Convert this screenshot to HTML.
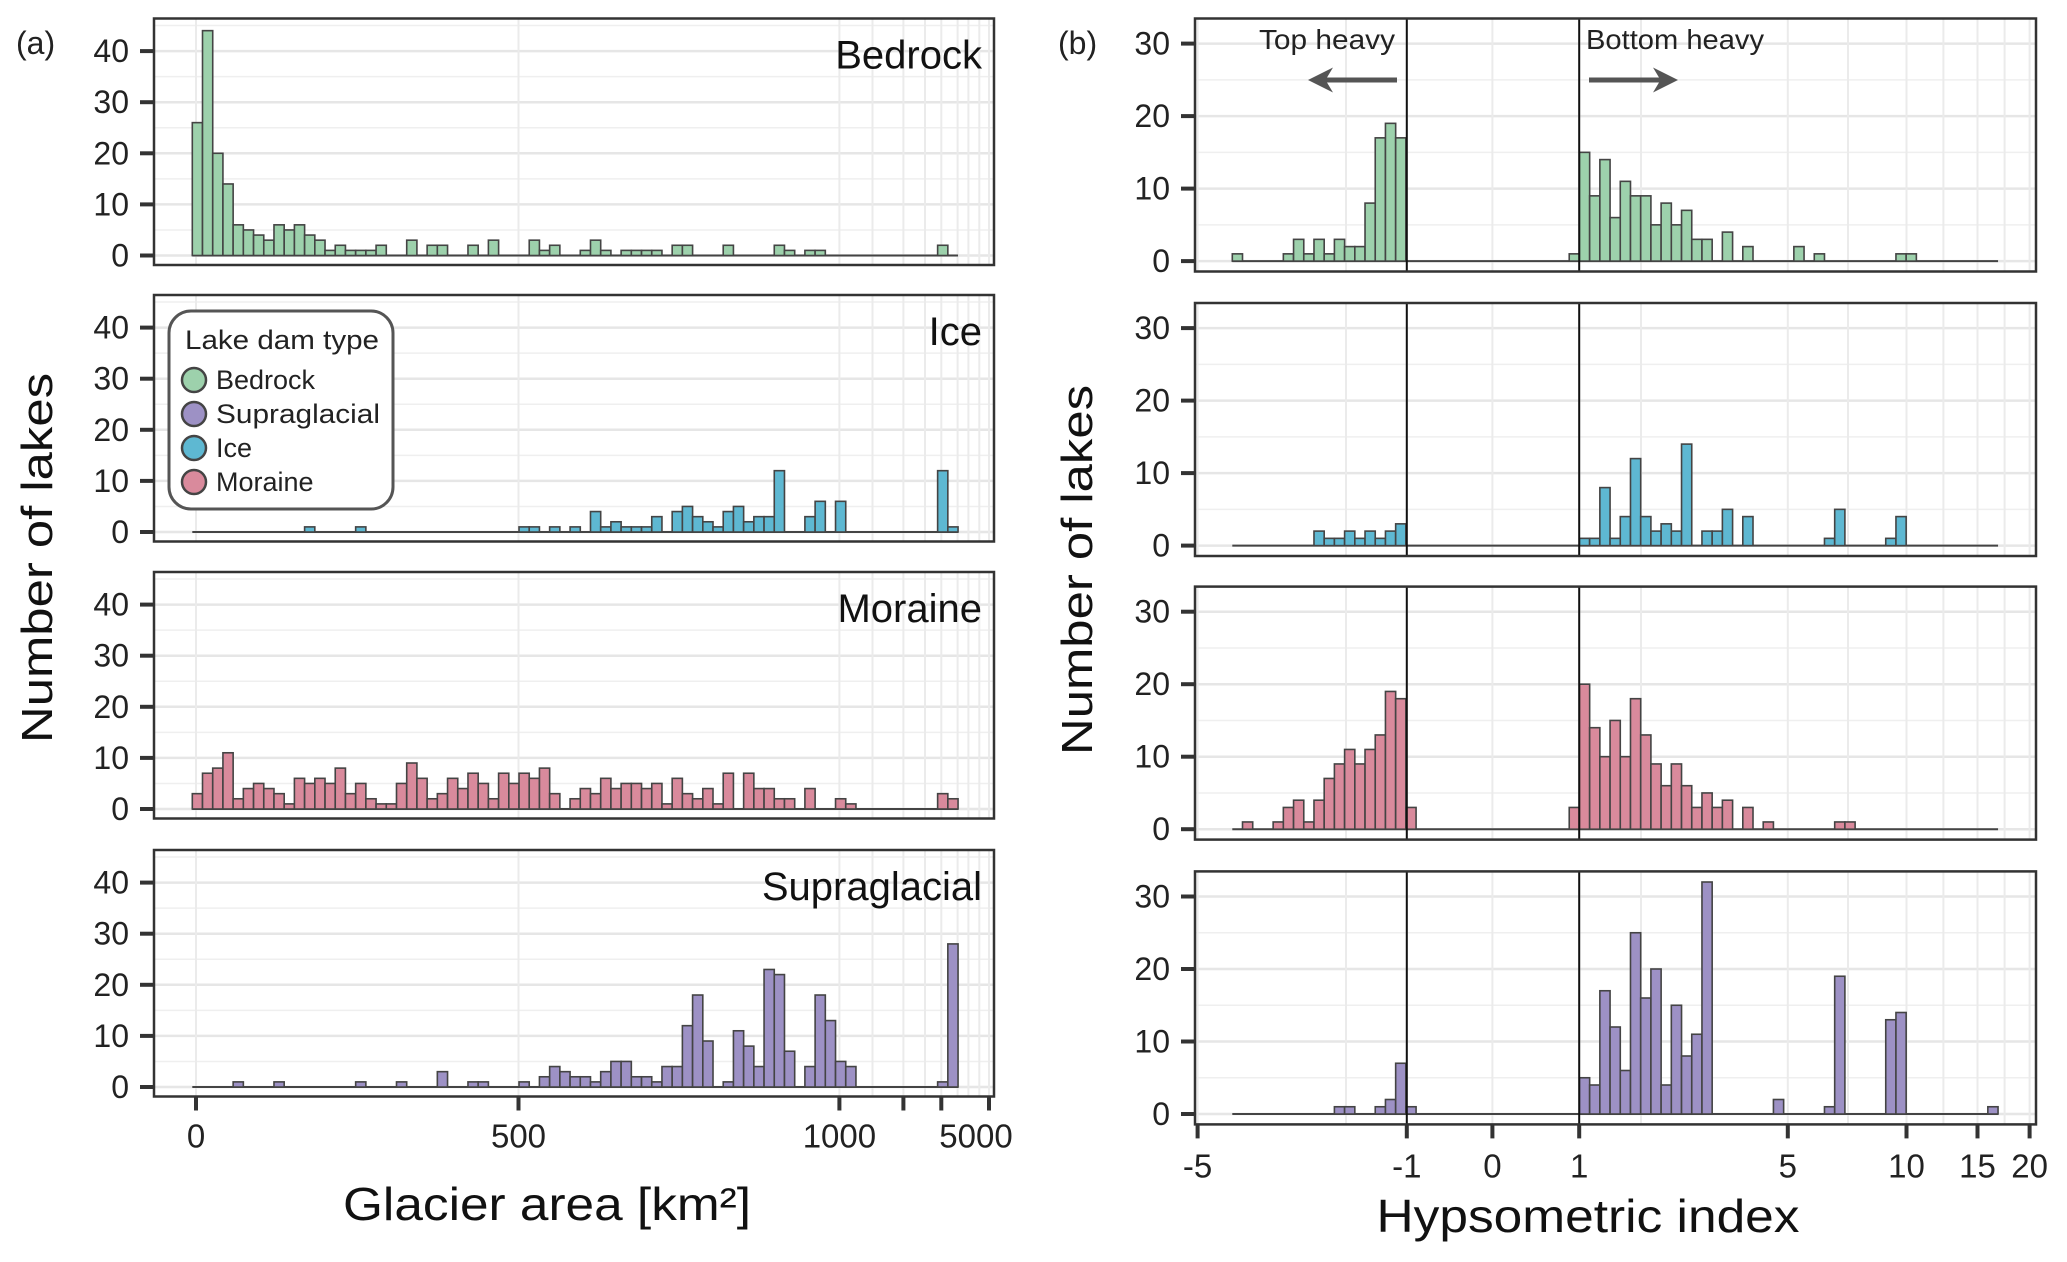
<!DOCTYPE html>
<html><head><meta charset="utf-8"><style>
html,body{margin:0;padding:0;background:#fff;}
svg{display:block;font-family:"Liberation Sans",sans-serif;}
</style></head><body>
<svg id="chart" width="2067" height="1262" viewBox="0 0 2067 1262" xmlns="http://www.w3.org/2000/svg">
<defs><marker id="ah" viewBox="0 0 10 10" refX="6" refY="5" markerWidth="5" markerHeight="5" orient="auto"><path d="M0,0 L10,5 L0,10 L3,5 z" fill="#555"/></marker></defs>
<g id="grid"></g>
<g id="bars"></g>
<g id="axes"></g>
<text x="16" y="54" font-size="32" fill="#222">(a)</text>
<text x="1058" y="54" font-size="32" fill="#222">(b)</text>
<text transform="translate(52,558) rotate(-90)" text-anchor="middle" font-size="44" fill="#111" textLength="370" lengthAdjust="spacingAndGlyphs">Number of lakes</text>
<text transform="translate(1092,570) rotate(-90)" text-anchor="middle" font-size="44" fill="#111" textLength="370" lengthAdjust="spacingAndGlyphs">Number of lakes</text>
<text x="547" y="1220" text-anchor="middle" font-size="46" fill="#111" textLength="408" lengthAdjust="spacingAndGlyphs">Glacier area [km²]</text>
<text x="1588" y="1232" text-anchor="middle" font-size="46" fill="#111" textLength="423" lengthAdjust="spacingAndGlyphs">Hypsometric index</text>
<text x="1395" y="49" text-anchor="end" font-size="28" fill="#222" textLength="136" lengthAdjust="spacingAndGlyphs">Top heavy</text>
<line x1="1397" y1="80" x2="1318" y2="80" stroke="#555" stroke-width="5" marker-end="url(#ah)"/>
<text x="1586" y="49" font-size="28" fill="#222" textLength="178" lengthAdjust="spacingAndGlyphs">Bottom heavy</text>
<line x1="1589" y1="80" x2="1668" y2="80" stroke="#555" stroke-width="5" marker-end="url(#ah)"/>
<g>
<rect x="169" y="311" width="224" height="198" rx="22" fill="#fff" stroke="#555" stroke-width="3"/>
<text x="185" y="349" font-size="27" fill="#222" textLength="194" lengthAdjust="spacingAndGlyphs">Lake dam type</text>
<circle cx="194" cy="380" r="12" fill="#9dd1ac" stroke="#444" stroke-width="2.5"/>
<text x="216" y="389" font-size="27" fill="#222">Bedrock</text>
<circle cx="194" cy="414" r="12" fill="#9d91c5" stroke="#444" stroke-width="2.5"/>
<text x="216" y="423" font-size="27" fill="#222" textLength="164" lengthAdjust="spacingAndGlyphs">Supraglacial</text>
<circle cx="194" cy="448" r="12" fill="#5eb8d2" stroke="#444" stroke-width="2.5"/>
<text x="216" y="457" font-size="27" fill="#222">Ice</text>
<circle cx="194" cy="482" r="12" fill="#d98a9c" stroke="#444" stroke-width="2.5"/>
<text x="216" y="491" font-size="27" fill="#222">Moraine</text>
</g>
</svg>
<script>
// ---- data (counts per bin, 75 bins) ----
const panelNames = ["Bedrock", "Ice", "Moraine", "Supraglacial"];
const areaBedrock = [26,44,20,14,6,5,4,3,6,5,6,4,3,1,2,1,1,1,2,0,0,3,0,2,2,0,0,2,0,3,0,0,0,3,1,2,0,0,1,3,1,0,1,1,1,1,0,2,2,0,0,0,2,0,0,0,0,2,1,0,1,1,0,0,0,0,0,0,0,0,0,0,0,2,0];
const areaIce = [0,0,0,0,0,0,0,0,0,0,0,1,0,0,0,0,1,0,0,0,0,0,0,0,0,0,0,0,0,0,0,0,1,1,0,1,0,1,0,4,1,2,1,1,1,3,0,4,5,3,2,1,4,5,2,3,3,12,0,0,3,6,0,6,0,0,0,0,0,0,0,0,0,12,1];
const areaMoraine = [3,7,8,11,2,4,5,4,3,1,6,5,6,5,8,3,5,2,1,1,5,9,6,2,3,6,4,7,5,2,7,5,7,6,8,3,0,2,4,3,6,4,5,5,4,5,1,6,3,2,4,1,7,0,7,4,4,2,2,0,4,0,0,2,1,0,0,0,0,0,0,0,0,3,2];
const areaSupra = [0,0,0,0,1,0,0,0,1,0,0,0,0,0,0,0,1,0,0,0,1,0,0,0,3,0,0,1,1,0,0,0,1,0,2,4,3,2,2,1,3,5,5,2,2,1,4,4,12,18,9,0,1,11,8,4,23,22,7,0,4,18,13,5,4,0,0,0,0,0,0,0,0,1,28];
const hypBedrock = [1,0,0,0,0,1,3,1,3,1,3,2,2,8,17,19,17,0,0,0,0,0,0,0,0,0,0,0,0,0,0,0,0,1,15,9,14,6,11,9,9,5,8,5,7,3,3,0,4,0,2,0,0,0,0,2,0,1,0,0,0,0,0,0,0,1,1,0,0,0,0,0,0,0,0];
const hypIce = [0,0,0,0,0,0,0,0,2,1,1,2,1,2,1,2,3,0,0,0,0,0,0,0,0,0,0,0,0,0,0,0,0,0,1,1,8,1,4,12,4,2,3,2,14,0,2,2,5,0,4,0,0,0,0,0,0,0,1,5,0,0,0,0,1,4,0,0,0,0,0,0,0,0,0];
const hypMoraine = [0,1,0,0,1,3,4,1,4,7,9,11,9,11,13,19,18,3,0,0,0,0,0,0,0,0,0,0,0,0,0,0,0,3,20,14,10,15,10,18,13,9,6,9,6,3,5,3,4,0,3,0,1,0,0,0,0,0,0,1,1,0,0,0,0,0,0,0,0,0,0,0,0,0,0];
const hypSupra = [0,0,0,0,0,0,0,0,0,0,1,1,0,0,1,2,7,1,0,0,0,0,0,0,0,0,0,0,0,0,0,0,0,0,5,4,17,12,6,25,16,20,4,15,8,11,32,0,0,0,0,0,0,2,0,0,0,0,1,19,0,0,0,0,13,14,0,0,0,0,0,0,0,0,1];
const leftYTicks = [0,10,20,30,40];
const rightYTicks = [0,10,20,30];
const areaTickLabels = ["0","500","1000","","","5000"];
const areaTickValues = [0,500,1000,2000,3000,5000];
const hypTickLabels = ["-5","-1","0","1","5","10","15","20"];
const hypTickValues = [-5,-1,0,1,5,10,15,20];

const colors = {Bedrock:"#9dd1ac", Ice:"#5eb8d2", Moraine:"#d98a9c", Supraglacial:"#9d91c5"};
const leftSeries = [areaBedrock, areaIce, areaMoraine, areaSupra];
const rightSeries = [hypBedrock, hypIce, hypMoraine, hypSupra];

const NS = "http://www.w3.org/2000/svg";
const gGrid = document.getElementById("grid"), gBars = document.getElementById("bars"), gAxes = document.getElementById("axes");
function mk(tag, attrs, parent){ const e=document.createElementNS(NS,tag); for(const k in attrs) e.setAttribute(k,attrs[k]); parent.appendChild(e); return e; }

const L = {x0:154, x1:994, tops:[18.5,295,572,850], h:246.5, zeroOff:237, perUnit:5.11, bin0:192.3, bw:10.21};
const R = {x0:1195, x1:2036, tops:[18.5,303,586.6,871.4], h:253, zeroOff:242.6, perUnit:7.25, bin0:1232.3, bw:10.21};
function yL(top,v){ return top + L.zeroOff - v*L.perUnit; }
function yR(top,v){ return top + R.zeroOff - v*R.perUnit; }
function xBinL(i){ return L.bin0 + i*L.bw; }
function xBinR(i){ return R.bin0 + i*R.bw; }
const areaPos = {0:196, 500:518.5, 1000:839.4, 2000:903.4, 3000:941.3, 5000:989};
function xArea(v){ return areaPos[v]; }
const hypPos = {"-5":1197.6, "-1":1406.8, "0":1492.4, "1":1579.2, "5":1787.8, "10":1906.5, "15":1977.5, "20":2029.6};
function xHyp(v){ return hypPos[String(v)]; }
const leftMinorX = [872.5, 925, 957.6, 968.4, 979.3];
const rightMinorX = [1346, 1641, 1848, 1943.4, 2004.6];

function drawPanel(side, p){
  const C = side==="L"?L:R;
  const top = C.tops[p];
  const data = side==="L"?leftSeries[p]:rightSeries[p];
  const yf = side==="L"?yL:yR;
  const xb = side==="L"?xBinL:xBinR;
  const name = panelNames[p];
  const pg = mk("g",{},gGrid);
  
  
  mk("rect",{x:C.x0,y:top,width:C.x1-C.x0,height:C.h,fill:"#fff"},pg);
  const ticks = side==="L"?leftYTicks:rightYTicks;
  const maxT = ticks[ticks.length-1];
  for(let v=5; v<=maxT+5; v+=10){ const y=yf(top,v); if(y>top) mk("line",{x1:C.x0,x2:C.x1,y1:y,y2:y,stroke:"#efefef","stroke-width":1.5},pg); }
  ticks.forEach(v=>{ const y=yf(top,v); mk("line",{x1:C.x0,x2:C.x1,y1:y,y2:y,stroke:"#e6e6e6","stroke-width":2.5},pg); });
  const vx = side==="L" ? areaTickValues.map(xArea).concat(leftMinorX) : hypTickValues.map(xHyp).concat(rightMinorX);
  vx.forEach(x=>{ mk("line",{x1:x,x2:x,y1:top,y2:top+C.h,stroke:"#ebebeb","stroke-width":2},pg); });
  const bl = mk("line",{x1:xb(0),x2:xb(data.length),y1:yf(top,0),y2:yf(top,0),stroke:"#444","stroke-width":2},gBars);
  
  
  data.forEach((v,i)=>{
    if(v<=0) return;
    const r = mk("rect",{x:xb(i),y:yf(top,v),width:C.bw,height:yf(top,0)-yf(top,v),fill:colors[name],stroke:"#444","stroke-width":1.6},gBars);
    
    
  });
  if(side==="R"){
    [-1,1].forEach(v=>{ const ln=mk("line",{x1:xHyp(v),x2:xHyp(v),y1:top,y2:top+C.h,stroke:"#111","stroke-width":2},gAxes);
      
       });
  }
  const fr = mk("rect",{x:C.x0,y:top,width:C.x1-C.x0,height:C.h,fill:"none",stroke:"#333","stroke-width":2.5},gAxes);
  
  
  ticks.forEach(v=>{
    const y=yf(top,v);
    mk("line",{x1:C.x0-14,x2:C.x0,y1:y,y2:y,stroke:"#333","stroke-width":4},gAxes);
    const t=mk("text",{x:C.x0-25,y:y+11,"text-anchor":"end","font-size":"32",fill:"#222"},gAxes);
    t.textContent=String(v);
    
    
  });
  if(side==="L"){
    const t=mk("text",{x:982,y:top+50,"text-anchor":"end","font-size":"40",fill:"#111"},gAxes);
    t.textContent=name;
    
    
  }
}
for(let p=0;p<4;p++){ drawPanel("L",p); drawPanel("R",p); }
const lb = L.tops[3]+L.h;
areaTickValues.forEach((v,i)=>{
  const x=xArea(v);
  mk("line",{x1:x,x2:x,y1:lb,y2:lb+14,stroke:"#333","stroke-width":4},gAxes);
  if(areaTickLabels[i]){ const t=mk("text",{x:(i===5?x-13:x),y:lb+51,"text-anchor":"middle","font-size":"33",fill:"#222"},gAxes);
    t.textContent=areaTickLabels[i];
    
     }
});
const rb = R.tops[3]+R.h;
hypTickValues.forEach((v,i)=>{
  const x=xHyp(v);
  mk("line",{x1:x,x2:x,y1:rb,y2:rb+14,stroke:"#333","stroke-width":4},gAxes);
  const t=mk("text",{x:x,y:rb+53,"text-anchor":"middle","font-size":"33",fill:"#222"},gAxes);
  t.textContent=hypTickLabels[i];
  
  
});
</script>
</body></html>
